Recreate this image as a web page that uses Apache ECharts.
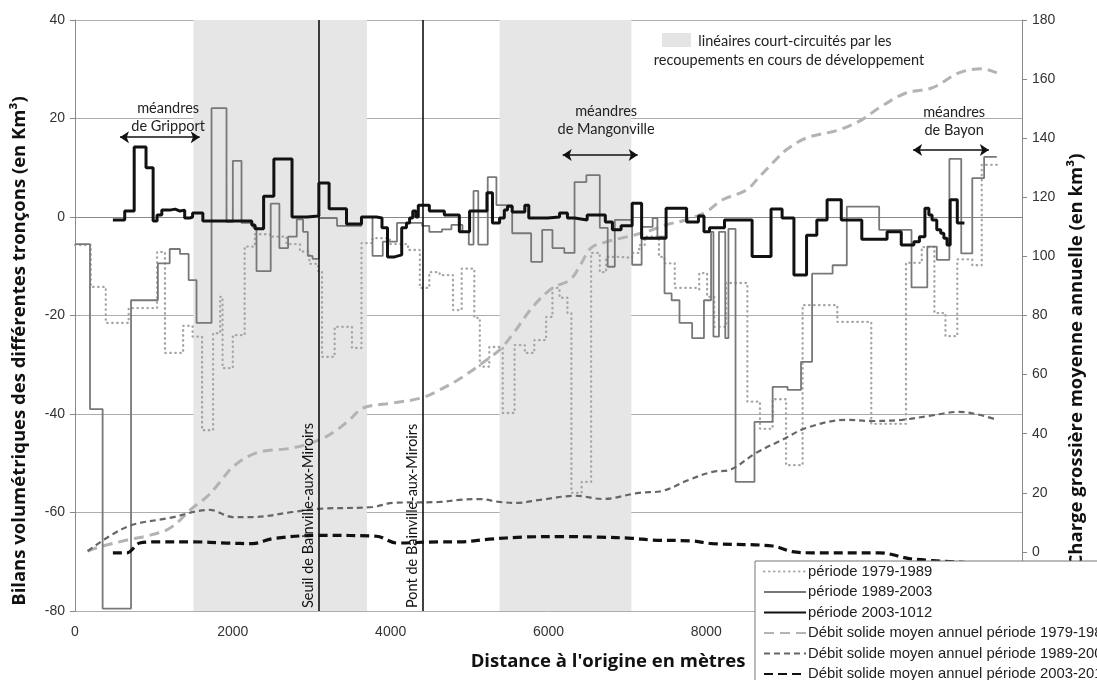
<!DOCTYPE html>
<html>
<head>
<meta charset="utf-8">
<script src="https://cdn.jsdelivr.net/npm/echarts/dist/echarts.min.js"></script>
<style>
  html, body { margin: 0; padding: 0; background: #fff; }
  #chart { width: 1097px; height: 680px; }
</style>
</head>
<body>
<div id="chart"></div>
<script>
// Volumetric balance per reach (left axis, km³) as steps: [start distance in m, value]
const bilan1979 = [
  [0,-5.7],[200,-14.2],[390,-21.5],[680,-18.5],[1040,-7.1],[1140,-27.6],[1370,-22.1],[1490,-24.3],
  [1610,-43.3],[1750,-23.6],[1840,-16.2],[1870,-30.7],[2000,-24],[2150,-6],[2280,-3.5],[2470,-4],
  [2680,-5.5],[2850,-7],[2970,-9.5],[3080,-11],[3130,-28.4],[3290,-22.3],[3510,-26.6],[3630,-5.3],
  [3770,-4.3],[3990,-5.5],[4220,-6.7],[4370,-14.4],[4490,-11.2],[4620,-11.8],[4790,-18.9],[4900,-10.5],
  [5060,-20.5],[5130,-30.4],[5250,-26.4],[5420,-39.8],[5570,-26],[5700,-27.6],[5820,-25],[5970,-20.3],
  [6050,-14.4],[6140,-16.4],[6240,-19.5],[6290,-56],[6420,-53.8],[6540,-7.3],[6650,-11.2],[6730,-8.1],
  [6920,-8.3],[7060,-7.3],[7150,-5.7],[7220,-4],[7400,-8.1],[7470,-9.4],[7600,-14.4],[7870,-14.8],
  [7910,-11.4],[8010,-16.2],[8100,-22.3],[8250,-13.4],[8520,-37.5],[8680,-43],[8840,-37],[9010,-50.4],
  [9220,-17.9],[9660,-21.3],[10090,-42],[10530,-9.3],[10730,-6.1],[10890,-19.5],[11030,-24.2],
  [11180,-8.6],[11370,-9.8],[11490,10.6],[11680,10.6]
];
const bilan1989 = [
  [0,-5.5],[190,-39],[350,-79.5],[710,-16.9],[1050,-9.4],[1200,-6.5],[1330,-7.5],[1440,-12.8],
  [1540,-21.5],[1730,22.1],[1920,-1],[2000,11.4],[2110,-1.2],[2250,-2],[2300,-11],[2480,2.7],
  [2590,-6.3],[2700,-4],[2810,-0.5],[2890,-3],[2950,-7.9],[3010,-8.5],[3090,-0.2],[3320,-1.8],
  [3630,0],[3770,-7.9],[3900,-5],[4080,-1.2],[4400,-1.8],[4490,-3],[4650,-2.5],[4770,-1.6],
  [4910,-3],[4990,-5.6],[5050,5.3],[5110,-5.6],[5230,8.1],[5340,2.4],[5540,-3.3],[5780,-9.1],
  [5920,-2.6],[6050,-6.3],[6200,-7.3],[6330,7.1],[6480,8.5],[6650,-2.2],[6750,-10.1],[6840,-0.6],
  [7060,-9.7],[7180,-2],[7320,-0.2],[7380,-4],[7470,-15.5],[7560,-16.9],[7660,-21.5],[7820,-24.6],
  [7970,-16.9],[8060,-3],[8090,-24.3],[8160,-3],[8240,-24.6],[8280,-2.4],[8370,-53.8],[8610,-41.6],
  [8840,-34.5],[9030,-35.1],[9200,-29.4],[9340,-11.5],[9600,-9.8],[9780,2.1],[10190,-2.6],
  [10600,-14.3],[10800,-6],[10920,-8.7],[11080,11.8],[11230,-7.4],[11370,7.9],[11520,12.2],[11680,12.2]
];
const bilan2003 = [
  [480,-0.6],[630,1.2],[750,14.2],[900,10],[990,-0.8],[1040,0.4],[1100,1.4],[1200,1.6],[1270,1.2],
  [1330,1.4],[1390,-0.2],[1460,0],[1490,0.8],[1620,-0.8],[2240,-1.6],[2280,-2.4],[2390,4.2],
  [2520,11.8],[2750,0],[2940,0.2],[3090,6.9],[3220,1.7],[3440,-1.4],[3630,0],[3820,-0.2],[3890,-2.2],
  [3960,-8.1],[4050,-7.7],[4140,-2.2],[4200,-1.2],[4240,-0.2],[4280,1.2],[4320,0],[4350,2.4],
  [4490,1.2],[4680,0.4],[4870,-3],[5000,1.2],[5220,4.9],[5290,-1.2],[5380,-0.2],[5440,1.4],[5480,2.2],
  [5540,1],[5700,2.4],[5750,-0.2],[5990,0],[6140,0.8],[6240,-0.2],[6330,-0.6],[6490,0.4],[6720,-1],
  [6810,-2.6],[6920,-1.8],[7060,2.8],[7180,-4.3],[7490,1.8],[7750,-1],[7900,0.2],[7970,-3],[8040,-2.2],
  [8230,-0.6],[8580,-8],[8820,1.6],[8960,-0.2],[9110,-11.8],[9270,-3.7],[9400,-0.6],[9530,3.5],
  [9710,-0.6],[9970,-4.5],[10290,-3],[10470,-5.7],[10630,-5],[10700,-4],[10770,1.8],[10820,0.4],
  [10860,-0.6],[10920,-2.6],[10970,-3.3],[11010,-4.3],[11050,-5.7],[11090,3.5],[11180,-1.2],[11270,-1.2]
];

// Mean annual bedload (right axis, km³): [distance in m, value]
const debit1979 = [
  [160,0.3],[350,2],[660,4],[910,5.4],[1160,7.4],[1290,9.8],[1490,14.9],[1670,18.6],[1840,23.7],
  [2000,28.8],[2300,33.5],[2760,35.2],[3100,37.9],[3320,41.3],[3480,44.7],[3650,48.7],[4030,50.4],
  [4390,52.1],[4620,54.8],[4870,58.5],[5130,63.3],[5380,68.4],[5540,73.4],[5800,82.9],[6050,89.3],
  [6270,92],[6390,96.4],[6540,102.9],[6730,104.9],[6990,106.6],[7240,108.3],[7490,110.7],[7750,112.4],
  [8000,115.1],[8200,119.1],[8510,122.5],[8670,126.9],[8840,131.6],[9010,136],[9270,140.1],
  [9680,142.8],[9970,146.2],[10190,150.3],[10530,155.3],[10860,157],[11200,162.1],[11490,163.5],[11680,162.1]
];
const debit1989 = [
  [160,0.3],[660,8.5],[1200,11.5],[1710,14.2],[2000,11.8],[2250,11.8],[2760,13.5],[3100,14.6],
  [3770,15.2],[4030,16.6],[4620,16.9],[4870,17.6],[5130,17.9],[5380,16.9],[5600,16.6],[5890,17.6],
  [6350,19],[6680,17.9],[7150,20],[7440,20.6],[7780,24.4],[8080,27.1],[8290,27.7],[8630,33.5],
  [8960,37.9],[9270,42],[9770,44.7],[10100,44.3],[10480,44.7],[10820,46],[11200,47.4],[11460,46.4],[11680,44.7]
];
const debit2003 = [
  [480,-0.3],[660,-0.3],[820,3],[1080,3.4],[1490,3.4],[1920,3],[2250,2.8],[2510,4.5],[3100,5.6],
  [3820,5.3],[4080,3],[4620,3.4],[4870,3.4],[5250,4.3],[5670,5],[6180,5.2],[6650,5],[7060,4.6],
  [7320,4],[7820,3.7],[8080,2.8],[8840,2],[9090,0.1],[9340,-0.3],[10190,-0.3],[10610,-2.4],[11270,-3.5]
];

// Cut-off reaches (shaded) and landmarks
const cutoffReaches = [[1500, 3700], [5380, 7050]];
const landmarks = [
  { name: 'Seuil de Bainville-aux-Miroirs', x: 3090 },
  { name: 'Pont de Bainville-aux-Miroirs', x: 4405 }
];
const meanders = [
  { label: 'méandres\nde Gripport', from: 570, to: 1580, arrowY: 16.2, textX: 1180, textY: 20.3 },
  { label: 'méandres\nde Mangonville', from: 6180, to: 7130, arrowY: 12.6, textX: 6730, textY: 19.7 },
  { label: 'méandres\nde Bayon', from: 10620, to: 11580, arrowY: 13.6, textX: 11140, textY: 19.4 }
];

const seriesNames = [
  'période 1979-1989',
  'période 1989-2003',
  'période 2003-1012',
  'Débit solide moyen annuel période 1979-1989',
  'Débit solide moyen annuel période 1989-2003',
  'Débit solide moyen annuel période 2003-2012'
];

const HUM = 'Lato, "Open Sans", sans-serif';
const TITLE = '"Open Sans", Lato, sans-serif';
const ARIAL = '"Liberation Sans", Arial, sans-serif';

const chart = echarts.init(document.getElementById('chart'), null, { renderer: 'canvas' });

const option = {
  animation: false,
  backgroundColor: '#fff',
  grid: { left: 75, right: 75, top: 20, bottom: 69, containLabel: false, outerBoundsMode: 'none' },
  xAxis: {
    type: 'value', min: 0, max: 12000, interval: 2000,
    axisLine: { show: true, lineStyle: { color: '#888', width: 1 } },
    axisTick: { show: false },
    splitLine: { show: false },
    axisLabel: {
      margin: 14, color: '#333', fontSize: 14, fontFamily: ARIAL,
      formatter: v => String(v)
    }
  },
  yAxis: [
    {
      type: 'value', min: -80, max: 40, interval: 20,
      axisLine: { show: true, onZero: false, lineStyle: { color: '#888', width: 1 } },
      axisTick: { show: true, length: 5, lineStyle: { color: '#888' } },
      splitLine: { show: true, lineStyle: { color: '#adadad', width: 1 } },
      axisLabel: { margin: 10, color: '#333', fontSize: 14, fontFamily: ARIAL }
    },
    {
      type: 'value', min: -20, max: 180, interval: 20, position: 'right',
      axisLine: { show: true, onZero: false, lineStyle: { color: '#888', width: 1 } },
      axisTick: { show: true, length: 5, lineStyle: { color: '#888' } },
      splitLine: { show: false },
      axisLabel: {
        margin: 10, color: '#333', fontSize: 14, fontFamily: ARIAL,
        formatter: v => (v < 0 ? '' : String(v))
      }
    }
  ],
  legend: {
    data: seriesNames,
    orient: 'vertical',
    left: 755, top: 561,
    width: 500, height: 150,
    backgroundColor: '#fff',
    borderColor: '#777', borderWidth: 1,
    padding: [3, 120, 3, 8],
    itemWidth: 42, itemHeight: 10, itemGap: 5.5,
    itemStyle: { opacity: 0 },
    textStyle: { color: '#222', fontSize: 14.8, fontFamily: ARIAL, padding: [0, 0, 0, -3] },
    z: 20
  },
  series: [
    {
      name: 'bands', type: 'line', data: [], z: 1, silent: true,
      markArea: {
        silent: true,
        itemStyle: { color: '#e6e6e6' },
        data: cutoffReaches.map(r => [{ xAxis: r[0] }, { xAxis: r[1] }])
      }
    },
    {
      name: seriesNames[0], type: 'line', step: 'end', data: bilan1979, symbol: 'none', z: 3,
      itemStyle: { color: '#a5a5a5' },
      lineStyle: { color: '#a5a5a5', width: 2.3, type: [0.5, 4.5], cap: 'round' }
    },
    {
      name: seriesNames[1], type: 'line', step: 'end', data: bilan1989, symbol: 'none', z: 4,
      itemStyle: { color: '#787878' },
      lineStyle: { color: '#787878', width: 1.8 }
    },
    {
      name: seriesNames[2], type: 'line', step: 'end', data: bilan2003, symbol: 'none', z: 6,
      itemStyle: { color: '#111' },
      lineStyle: { color: '#111', width: 3 }
    },
    {
      name: seriesNames[3], type: 'line', yAxisIndex: 1, smooth: 0.35, data: debit1979, symbol: 'none', z: 3,
      itemStyle: { color: '#b3b3b3' },
      lineStyle: { color: '#b3b3b3', width: 3, type: [10, 6] }
    },
    {
      name: seriesNames[4], type: 'line', yAxisIndex: 1, smooth: 0.35, data: debit1989, symbol: 'none', z: 4,
      itemStyle: { color: '#666' },
      lineStyle: { color: '#666', width: 2.2, type: [6, 4] }
    },
    {
      name: seriesNames[5], type: 'line', yAxisIndex: 1, smooth: 0.35, data: debit2003, symbol: 'none', z: 5,
      itemStyle: { color: '#111' },
      lineStyle: { color: '#111', width: 3.2, type: [9, 5] }
    },
    {
      name: 'landmarks', type: 'line', data: [], z: 8, silent: true,
      markLine: {
        silent: true, symbol: ['none', 'none'],
        lineStyle: { color: '#111', width: 1.6, type: 'solid' },
        label: {
          show: true, position: 'insideStartTop', formatter: '{b}',
          color: '#111', fontSize: 14.5, fontFamily: HUM, distance: 3
        },
        data: landmarks.map(l => ({ name: l.name, xAxis: l.x }))
      }
    },
    {
      name: 'meanders', type: 'line', data: [], z: 8, silent: true,
      markLine: {
        silent: true, symbol: ['arrow', 'arrow'], symbolSize: 9,
        lineStyle: { color: '#111', width: 1.5, type: 'solid' },
        label: { show: false },
        data: meanders.map(m => [{ coord: [m.from, m.arrowY] }, { coord: [m.to, m.arrowY] }])
      },
      markPoint: {
        silent: true, symbol: 'circle', symbolSize: 1,
        itemStyle: { color: 'rgba(0,0,0,0)' },
        label: {
          show: true, position: 'inside', color: '#222', fontSize: 14.5,
          lineHeight: 18, fontFamily: HUM, formatter: '{b}'
        },
        data: meanders.map(m => ({ name: m.label, coord: [m.textX, m.textY] }))
      }
    }
  ],
  graphic: [
    {
      type: 'text', x: 20, y: 351, rotation: Math.PI / 2,
      style: {
        text: 'Bilans volumétriques des différentes tronçons (en Km³)',
        fill: '#111', font: 'bold 18.5px ' + TITLE, align: 'center', verticalAlign: 'middle'
      }
    },
    {
      type: 'text', x: 1077, y: 360, rotation: Math.PI / 2,
      style: {
        text: 'Charge grossière moyenne annuelle (en km³)',
        fill: '#111', font: 'bold 18.5px ' + TITLE, align: 'center', verticalAlign: 'middle'
      }
    },
    {
      type: 'text', x: 608, y: 662,
      style: {
        text: "Distance à l'origine en mètres",
        fill: '#111', font: 'bold 18.5px ' + TITLE, align: 'center', verticalAlign: 'middle'
      }
    },
    {
      type: 'rect', shape: { x: 662, y: 33, width: 29, height: 14 },
      style: { fill: '#e4e4e4' }
    },
    {
      type: 'text', x: 795, y: 41,
      style: {
        text: 'linéaires court-circuités par les',
        fill: '#222', font: '14.5px ' + HUM, align: 'center', verticalAlign: 'middle'
      }
    },
    {
      type: 'text', x: 789, y: 60,
      style: {
        text: 'recoupements en cours de développement',
        fill: '#222', font: '14.5px ' + HUM, align: 'center', verticalAlign: 'middle'
      }
    }
  ]
};

chart.setOption(option);
</script>
</body>
</html>
